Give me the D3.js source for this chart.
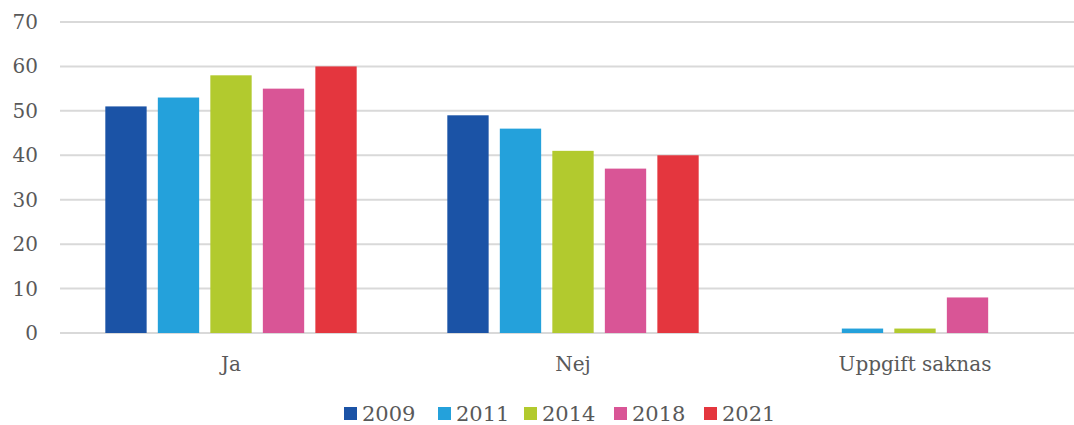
<!DOCTYPE html>
<html>
<head>
<meta charset="utf-8">
<script src="https://cdn.jsdelivr.net/npm/d3@7"></script>
<style>
  html, body { margin: 0; padding: 0; background: #fff; }
  svg { display: block; }
  text { font-family: Georgia, "DejaVu Serif", serif; fill: #595959; }
</style>
</head>
<body>
<svg id="chart" width="1074" height="425"></svg>
<script>
// Answer categories
const categories = ["Ja", "Nej", "Uppgift saknas"];
// Survey years
const years = ["2009", "2011", "2014", "2018", "2021"];
// Percent per year, one value per category
const values2009 = [51, 49, 0];
const values2011 = [53, 46, 1];
const values2014 = [58, 41, 1];
const values2018 = [55, 37, 8];
const values2021 = [60, 40, 0];
const seriesValues = [values2009, values2011, values2014, values2018, values2021];
// Y axis ticks
const yTicks = [0, 10, 20, 30, 40, 50, 60, 70];

const colors = ["#1b53a6", "#24a1db", "#b2ca2e", "#d95596", "#e4363e"];

const svg = d3.select("#chart");
const plot = { left: 60, right: 1086, top: 22, bottom: 333 };

const x0 = d3.scaleBand().domain(categories).range([plot.left, plot.right]).padding(0);
const bw = x0.bandwidth();
// bar cluster centred in each band
const x1 = d3.scaleBand().domain(years)
  .range([bw * 0.1325, bw * 0.8675])
  .paddingInner(0.213).paddingOuter(0);
const y = d3.scaleLinear().domain([0, 70]).range([plot.bottom, plot.top]);

// gridlines
svg.append("g")
  .selectAll("line")
  .data(yTicks)
  .join("line")
  .attr("x1", plot.left)
  .attr("x2", plot.right)
  .attr("y1", d => y(d))
  .attr("y2", d => y(d))
  .attr("stroke", "#d9d9d9")
  .attr("stroke-width", 2);

// y axis labels, right-aligned against x = 38
svg.append("g")
  .selectAll("text")
  .data(yTicks)
  .join("text")
  .attr("y", d => y(d))
  .attr("dy", "0.35em")
  .attr("font-size", 20)
  .text(d => d)
  .attr("x", function () { return 38 - this.getComputedTextLength(); });

// bars
const groups = svg.append("g")
  .selectAll("g")
  .data(categories)
  .join("g")
  .attr("transform", c => `translate(${x0(c)},0)`);

groups.selectAll("rect")
  .data((c, ci) => years.map((yr, si) => ({ yr, si, v: seriesValues[si][ci] })))
  .join("rect")
  .attr("x", d => x1(d.yr))
  .attr("width", x1.bandwidth())
  .attr("y", d => y(d.v))
  .attr("height", d => y(0) - y(d.v))
  .attr("fill", d => colors[d.si]);

// category labels
svg.append("g")
  .selectAll("text")
  .data(categories)
  .join("text")
  .attr("x", c => x0(c) + bw / 2)
  .attr("y", 371)
  .attr("text-anchor", "middle")
  .attr("font-size", 20)
  .text(c => c);

// legend
const legendX = [344, 438, 524, 614, 704];
const legend = svg.append("g")
  .selectAll("g")
  .data(years)
  .join("g")
  .attr("transform", (d, i) => `translate(${legendX[i]},407)`);
legend.append("rect")
  .attr("width", 13)
  .attr("height", 13)
  .attr("fill", (d, i) => colors[i]);
legend.append("text")
  .attr("x", 18)
  .attr("y", 14)
  .attr("font-size", 21)
  .text(d => d);
</script>
</body>
</html>
